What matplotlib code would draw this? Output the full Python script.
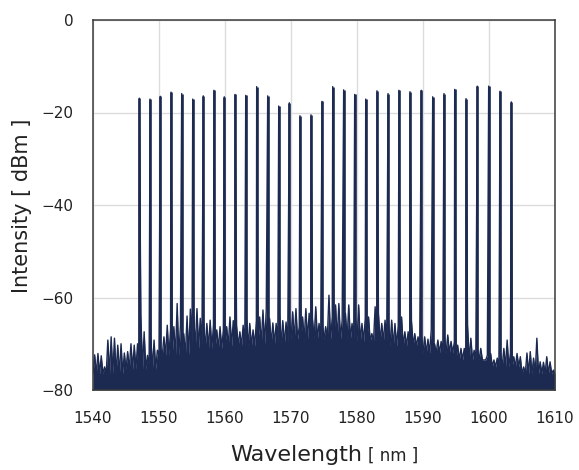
import numpy as np
import matplotlib
matplotlib.use("Agg")
import matplotlib.pyplot as plt

# comb lines (nm, dBm)
peak_wl = [1547.02, 1548.64, 1550.20, 1551.82, 1553.44, 1555.11, 1556.71, 1558.33,
           1559.89, 1561.52, 1563.14, 1564.80, 1566.47, 1568.14, 1569.74, 1571.36,
           1573.03, 1574.70, 1576.32, 1577.98, 1579.65, 1581.32, 1583.03, 1584.70,
           1586.36, 1588.03, 1589.74, 1591.47, 1593.18, 1594.80, 1596.52, 1598.23,
           1599.95, 1601.67, 1603.38]
peak_db = [-16.9, -17.1, -16.5, -15.6, -15.9, -17.1, -16.4, -15.2, -16.6, -16.1,
           -16.3, -14.4, -16.4, -18.6, -17.9, -20.7, -20.5, -17.6, -14.4,
           -15.1, -16.1, -17.1, -15.3, -15.9, -15.2, -15.5, -15.2, -16.6, -15.9,
           -15.0, -17.0, -14.3, -14.3, -15.4, -17.7]

# noise spike tops, every 0.5 nm from 1540.25 to 1609.75
noise_top = [
    -72.4, -72.1, -72.6, -75.0, -69.2, -68.5, -68.8, -70.3, -70.0, -72.0,
    -71.7, -70.0, -70.3, -70.0, -63.8, -67.4, -72.5, -68.1, -69.2, -71.4,
    -71.0, -68.5, -66.0, -67.0, -66.3, -61.3, -66.0, -67.8, -64.0, -62.5,
    -63.5, -62.4, -64.5, -65.0, -65.6, -64.9, -66.0, -67.0, -66.3, -67.0,
    -66.3, -64.2, -65.0, -66.0, -67.4, -66.0, -64.2, -65.6, -67.0, -65.0,
    -64.2, -62.7, -62.7, -64.5, -65.5, -65.6, -63.4, -65.0, -65.3, -64.0,
    -63.1, -62.4, -66.3, -64.2, -62.4, -63.4, -64.5, -62.0, -65.6, -66.0,
    -66.3, -59.5, -64.2, -61.6, -61.3, -64.9, -63.4, -61.6, -65.6, -64.0,
    -61.6, -65.6, -64.5, -64.2, -67.8, -62.0, -63.4, -65.6, -64.9, -64.5,
    -64.9, -65.6, -66.0, -64.2, -67.4, -67.4, -64.9, -67.8, -68.5, -68.0,
    -68.5, -69.0, -67.0, -70.0, -69.2, -69.5, -68.5, -68.1, -69.5, -69.6,
    -70.3, -71.0, -71.0, -66.0, -68.8, -71.4, -71.0, -71.0, -73.5, -72.5,
    -72.1, -73.5, -73.1, -72.0, -71.0, -69.2, -72.0, -72.8, -72.1, -72.8,
    -75.0, -72.0, -71.7, -73.1, -68.8, -73.9, -74.0, -72.8, -73.9, -75.7,
]
# solid noise floor level per 5 nm block (1540-1545, ..., 1605-1610)
noise_floor = [-76.5, -75.5, -72.5, -71.0, -70.5, -70.0, -69.0, -69.0,
               -69.5, -70.5, -72.0, -73.5, -75.0, -76.5]

xticks = [1540, 1550, 1560, 1570, 1580, 1590, 1600, 1610]
yticks = [-80, -60, -40, -20, 0]

# build the trace: valleys and spike tops alternate on a 0.25 nm grid
grid = np.linspace(1540, 1610, 281)
valleys = np.append(np.repeat(noise_floor, 10), noise_floor[-1])
noise = np.empty(281)
noise[0::2] = valleys
noise[1::2] = noise_top

wl = np.concatenate([grid, peak_wl])
db = np.concatenate([noise, peak_db])
order = np.argsort(wl)
wl, db = wl[order], db[order]

plt.rcParams['font.family'] = ['DejaVu Sans']
navy = '#1c2a52'

fig = plt.figure(figsize=(5.79, 4.70), dpi=100)
ax = fig.add_axes([93 / 579, 1 - 390 / 470, 462 / 579, 370 / 470])

ax.fill_between(wl, db, -80, color=navy, lw=0)
ax.plot(wl, db, color=navy, lw=1.0)
ax.vlines(peak_wl, -80, peak_db, color=navy, lw=1.9)

ax.set_xlim(1540, 1610)
ax.set_ylim(-80, 0)
ax.set_xticks(xticks)
ax.set_yticks(yticks)
ax.tick_params(length=0, labelsize=11, colors='#222222')
ax.tick_params(axis='x', pad=15)
ax.tick_params(axis='y', pad=14)
ax.grid(True, color='#dcdcdc', lw=1)
ax.set_axisbelow(True)
for s in ax.spines.values():
    s.set_color('#3a3a3a')
    s.set_linewidth(1.1)

fig.text(362 / 579, 1 - 461 / 470, 'Wavelength', ha='right', va='baseline',
         fontsize=16, color='#222222')
fig.text(368 / 579, 1 - 461 / 470, '[ nm ]', ha='left', va='baseline',
         fontsize=12, color='#222222')
fig.text(22 / 579, 1 - 206 / 470, 'Intensity [ dBm ]', rotation=90,
         ha='center', va='center', fontsize=15, color='#222222')

fig.savefig('out.png', dpi=100)
